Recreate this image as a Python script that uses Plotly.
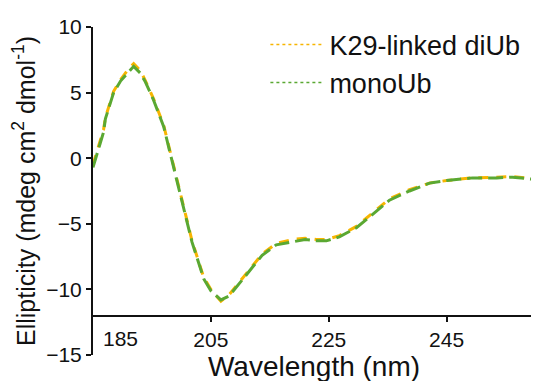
import plotly.graph_objects as go

wavelength = [185, 185.5, 186.8, 187.1, 188.5, 189.7, 191.0, 191.9, 193.0, 193.9, 195.3, 197.0, 198.3,
              200.1, 201.8, 203.8, 205.0, 206.7, 208.1, 211.0, 213.7, 216.1, 218.8, 221.0, 222.9,
              224.6, 226.8, 229.7, 232.4, 235.3, 238.7, 242.1, 245.0, 249.4, 253.5, 256.2, 259.6]
mono_ub = [-0.7, 0.0, 2.0, 3.0, 5.0, 5.9, 6.6, 7.0, 6.5, 5.8, 4.4, 2.4, 0.0,
           -3.4, -6.4, -9.2, -10.1, -10.8, -10.5, -8.9, -7.4, -6.6, -6.4, -6.2, -6.3,
           -6.3, -6.0, -5.3, -4.3, -3.2, -2.5, -1.9, -1.7, -1.5, -1.5, -1.45, -1.6]
k29_diub = [-0.5, 0.2, 2.2, 3.1, 5.1, 6.0, 6.8, 7.2, 6.7, 5.9, 4.5, 2.5, 0.1,
            -3.3, -6.3, -9.1, -10.0, -10.9, -10.4, -8.8, -7.3, -6.5, -6.2, -6.1, -6.2,
            -6.2, -5.9, -5.2, -4.2, -3.1, -2.4, -1.9, -1.7, -1.5, -1.45, -1.4, -1.55]

x_ticks = [205, 225, 245]
y_ticks = [10, 5, 0, -5, -10, -15]

orange = "#F7B500"
green = "#5AA832"
font = "Liberation Sans, Arial, sans-serif"

fig = go.Figure()
fig.add_trace(go.Scatter(x=wavelength, y=k29_diub, mode="lines", showlegend=False,
                         line=dict(color=orange, width=3, dash="10px,8px")))
fig.add_trace(go.Scatter(x=wavelength, y=mono_ub, mode="lines", showlegend=False,
                         line=dict(color=green, width=3, dash="15px,6px")))
fig.add_trace(go.Scatter(x=[None], y=[None], mode="lines", name="K29-linked diUb",
                         line=dict(color=orange, width=1.5, dash="dot")))
fig.add_trace(go.Scatter(x=[None], y=[None], mode="lines", name="monoUb",
                         line=dict(color=green, width=1.5, dash="dot")))

fig.update_layout(
    width=539, height=381,
    margin=dict(l=85, r=12, t=13, b=34),
    paper_bgcolor="white", plot_bgcolor="white",
    font=dict(family=font, color="#111111", size=21),
    legend=dict(x=0.39, y=1.02, xanchor="left", yanchor="top",
                bgcolor="rgba(0,0,0,0)", font=dict(size=27), itemwidth=54, tracegroupgap=0),
    xaxis=dict(range=[185, 260], tickvals=x_ticks, ticks="outside", ticklen=5, tickwidth=2,
               showline=True, linewidth=2, linecolor="#111111", tickcolor="#111111",
               showgrid=False, zeroline=False, anchor="free", position=0.12,
               tickfont=dict(size=21), automargin=False,
               title=dict(text="Wavelength (nm)", font=dict(size=28), standoff=0)),
    yaxis=dict(range=[-15, 10], tickvals=y_ticks, ticks="outside", ticklen=5, tickwidth=2,
               showline=True, linewidth=2, linecolor="#111111", tickcolor="#111111",
               showgrid=False, zeroline=False, tickfont=dict(size=21), automargin=False,
               title=dict(text="Ellipticity (mdeg cm<sup>2</sup> dmol<sup>-1</sup>)",
                          font=dict(size=25), standoff=4)),
)
fig.add_annotation(x=185, y=-12, xref="x", yref="y", text="185", showarrow=False,
                   xshift=27, yshift=-23, font=dict(size=21))

fig.write_html("out.html")
